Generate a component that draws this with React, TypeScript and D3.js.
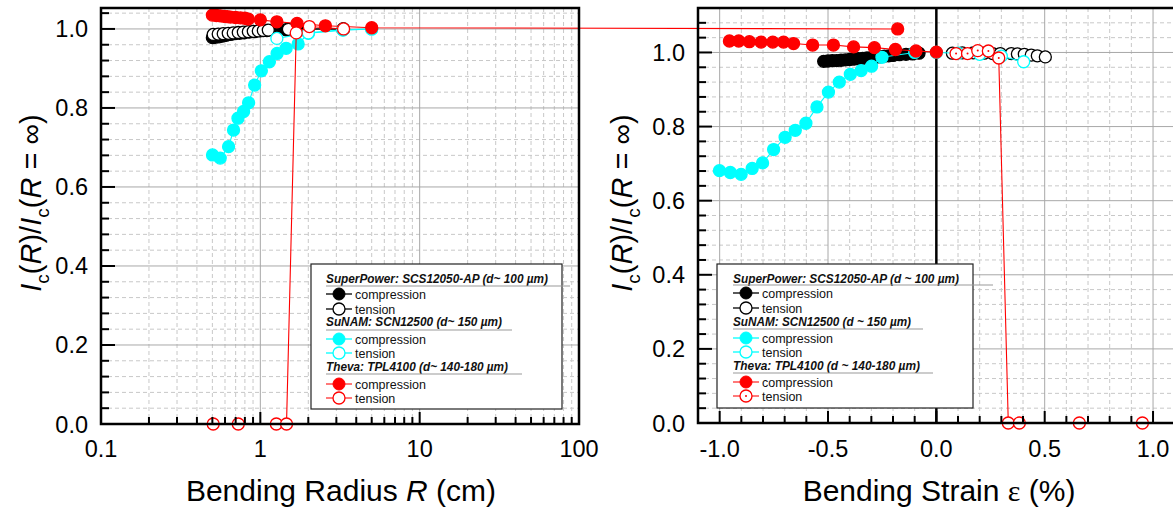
import React from "react";
import * as d3 from "d3";

// ---------- Left panel data (Bending radius R in cm) ----------
const spCompR = [0.5, 0.52, 0.55, 0.58, 0.61, 0.65, 0.69, 0.74, 0.79, 0.85, 0.92, 1.0, 1.1, 1.25, 1.45, 1.7, 2.0, 3.3];
const spCompV = [0.978, 0.979, 0.98, 0.982, 0.984, 0.986, 0.988, 0.989, 0.99, 0.992, 0.993, 0.995, 0.996, 0.997, 0.998, 0.999, 1.0, 1.0];
const spTenR = [0.506, 0.544, 0.585, 0.629, 0.676, 0.727, 0.782, 0.841, 0.903, 0.971, 1.044, 1.122, 1.5, 2.0, 3.33];
const spTenV = [0.986, 0.987, 0.988, 0.989, 0.99, 0.991, 0.992, 0.993, 0.994, 0.995, 0.996, 0.997, 0.999, 1.0, 1.0];
const snCompR = [0.501, 0.56, 0.632, 0.679, 0.724, 0.785, 0.844, 0.921, 1.015, 1.14, 1.274, 1.452, 1.727, 2.004, 3.3, 5.0];
const snCompV = [0.681, 0.673, 0.702, 0.744, 0.774, 0.791, 0.813, 0.858, 0.894, 0.917, 0.938, 0.951, 0.962, 0.989, 0.997, 1.0];
const snTenR = [1.27, 2.0, 3.3, 5.0];
const snTenV = [0.976, 0.99, 0.998, 1.0];
const thCompR = [0.5, 0.53, 0.56, 0.59, 0.62, 0.65, 0.7, 0.75, 0.8, 0.84, 1.0, 1.27, 1.7, 2.56, 5.0, 10000];
const thCompV = [1.035, 1.034, 1.033, 1.032, 1.031, 1.03, 1.029, 1.028, 1.027, 1.025, 1.023, 1.018, 1.014, 1.008, 1.003, 1.0];
const thTenR = [0.506, 0.727, 1.26, 1.46, 1.68, 2.03, 3.33];
const thTenV = [0, 0, 0, 0, 0.99, 1.006, 1.0];

// ---------- Right panel data (Bending strain in %) ----------
const spCompE = [-0.52, -0.5, -0.48, -0.46, -0.44, -0.42, -0.4, -0.38, -0.36, -0.34, -0.32, -0.3, -0.28, -0.26, -0.24, -0.22, -0.2, -0.17, -0.14, -0.11, -0.08];
const spCompEV = [0.976, 0.977, 0.978, 0.978, 0.979, 0.98, 0.981, 0.982, 0.983, 0.984, 0.985, 0.986, 0.987, 0.988, 0.99, 0.991, 0.992, 0.994, 0.995, 0.996, 0.998];
const spTenE = [0.074, 0.12, 0.17, 0.22, 0.26, 0.295, 0.346, 0.374, 0.406, 0.438, 0.466, 0.503];
const spTenEV = [0.998, 0.999, 0.999, 0.998, 0.997, 0.997, 0.997, 0.996, 0.995, 0.993, 0.991, 0.988];
const snCompE = [-1.001, -0.951, -0.901, -0.85, -0.802, -0.751, -0.698, -0.651, -0.602, -0.551, -0.498, -0.448, -0.397, -0.347, -0.299, -0.251, -0.1];
const snCompEV = [0.681, 0.676, 0.671, 0.687, 0.702, 0.738, 0.771, 0.79, 0.809, 0.853, 0.893, 0.92, 0.941, 0.951, 0.963, 0.987, 1.0];
const snTenE = [0.0, 0.1, 0.2, 0.3, 0.403];
const snTenEV = [1.0, 0.998, 0.995, 0.99, 0.975];
const thCompE = [-0.955, -0.912, -0.863, -0.809, -0.755, -0.705, -0.659, -0.571, -0.475, -0.382, -0.286, -0.189, -0.094, 0.0];
const thCompEV = [1.031, 1.031, 1.029, 1.028, 1.028, 1.028, 1.024, 1.02, 1.02, 1.015, 1.013, 1.008, 1.004, 1.001];
const thTenE = [0.091, 0.144, 0.191, 0.24, 0.288, 0.332, 0.383, 0.66, 0.951];
const thTenEV = [0.997, 0.997, 1.005, 1.004, 0.985, 0, 0, 0, 0];

// ---------- Ticks ----------
const yMajor = [0, 0.2, 0.4, 0.6, 0.8, 1.0];
const yMajorLabels = ["0.0", "0.2", "0.4", "0.6", "0.8", "1.0"];
const yMinor = [0.04, 0.08, 0.12, 0.16, 0.24, 0.28, 0.32, 0.36, 0.44, 0.48, 0.52, 0.56, 0.64, 0.68, 0.72, 0.76, 0.84, 0.88, 0.92, 0.96, 1.04, 1.08];
const rMajor = [0.1, 1, 10, 100];
const rMajorLabels = ["0.1", "1", "10", "100"];
const rMinor = [0.2, 0.3, 0.4, 0.5, 0.6, 0.7, 0.8, 0.9, 2, 3, 4, 5, 6, 7, 8, 9, 20, 30, 40, 50, 60, 70, 80, 90];
const eMajor = [-1.0, -0.5, 0.0, 0.5, 1.0];
const eMajorLabels = ["-1.0", "-0.5", "0.0", "0.5", "1.0"];
const eMinor = [-1.1, -0.9, -0.8, -0.7, -0.6, -0.4, -0.3, -0.2, -0.1, 0.1, 0.2, 0.3, 0.4, 0.6, 0.7, 0.8, 0.9];

const legendGroups = [
  { left: "SuperPower: SCS12050-AP (d~ 100 µm)", right: "SuperPower: SCS12050-AP (d ~ 100 µm)", color: "#000000" },
  { left: "SuNAM: SCN12500 (d~ 150 µm)", right: "SuNAM: SCN12500 (d ~ 150 µm)", color: "#00ffff" },
  { left: "Theva: TPL4100 (d~ 140-180 µm)", right: "Theva: TPL4100 (d ~ 140-180 µm)", color: "#ff0000" },
];

const FONT = "Liberation Sans, Arial, sans-serif";
const GRID_MAJ = "#a8a8a8";
const GRID_MIN = "#c8c8c8";

// scales
const xL = d3.scaleLog().domain([0.1, 100]).range([101, 579]);
const yL = d3.scaleLinear().domain([0, 1.053]).range([424, 8]);
const xR = d3.scaleLinear().domain([-1.1, 1.1]).range([698, 1174.7]);
const yR = d3.scaleLinear().domain([0, 1.12]).range([423, 8]);

type S = (v: number) => number;

function Series({ xs, ys, sx, sy, color, filled, dot, lineColor }: { xs: number[]; ys: number[]; sx: S; sy: S; color: string; filled: boolean; dot?: boolean; lineColor?: string }) {
  const pts = xs.map((x, i) => [sx(x), sy(ys[i])] as [number, number]);
  const line = d3.line();
  return (
    <g>
      <path d={line(pts) || ""} fill="none" stroke={lineColor || color} strokeWidth={1.1} />
      {pts.map((p, i) => (
        <g key={i}>
          <circle cx={p[0]} cy={p[1]} r={6} fill={filled ? color : "white"} stroke={color} strokeWidth={1.3} />
          {dot && <circle cx={p[0]} cy={p[1]} r={1} fill={color} />}
        </g>
      ))}
    </g>
  );
}

function YTitle({ x, y }: { x: number; y: number }) {
  return (
    <text transform={`translate(${x},${y}) rotate(-90)`} textAnchor="middle" fontSize={29} fontFamily={FONT}>
      <tspan fontStyle="italic">I</tspan>
      <tspan fontSize={19} dy={8}>c</tspan>
      <tspan dy={-8}>(</tspan>
      <tspan fontStyle="italic">R</tspan>
      <tspan>)/</tspan>
      <tspan fontStyle="italic">I</tspan>
      <tspan fontSize={19} dy={8}>c</tspan>
      <tspan dy={-8}>(</tspan>
      <tspan fontStyle="italic">R</tspan>
      <tspan> = ∞)</tspan>
    </text>
  );
}

function Legend({ box, hx, mx, rows, side, dot }: { box: [number, number, number, number]; hx: number; mx: number; rows: { hb: number; ul: number; ulEnd: number; c: number; t: number; tl: number }[]; side: "left" | "right"; dot: boolean }) {
  return (
    <g fontFamily={FONT}>
      <rect x={box[0]} y={box[1]} width={box[2] - box[0]} height={box[3] - box[1]} fill="white" stroke="#222" strokeWidth={1.2} />
      {legendGroups.map((g, i) => {
        const r = rows[i];
        const lc = g.color === "#ff0000" ? "#ff3030" : g.color === "#000000" ? "#000" : g.color;
        return (
          <g key={i}>
            <text x={hx} y={r.hb} fontSize={12} fontWeight="bold" fontStyle="italic" fill="#111" textLength={r.tl} lengthAdjust="spacingAndGlyphs">{side === "left" ? g.left : g.right}</text>
            <line x1={hx} x2={r.ulEnd} y1={r.ul} y2={r.ul} stroke="#999" strokeWidth={1} />
            <line x1={hx} x2={mx * 2 - hx} y1={r.c} y2={r.c} stroke={lc} strokeWidth={1.3} />
            <circle cx={mx} cy={r.c} r={6} fill={g.color} stroke={g.color} />
            <text x={mx * 2 - hx + 3} y={r.c + 4.5} fontSize={12.5} fill="#111">compression</text>
            <line x1={hx} x2={mx * 2 - hx} y1={r.t} y2={r.t} stroke={lc} strokeWidth={1.3} />
            <circle cx={mx} cy={r.t} r={6} fill="white" stroke={g.color} strokeWidth={1.3} />
            {dot && i === 2 && <circle cx={mx} cy={r.t} r={1} fill={g.color} />}
            <text x={mx * 2 - hx + 3} y={r.t + 4.5} fontSize={12.5} fill="#111">tension</text>
          </g>
        );
      })}
    </g>
  );
}

export default function App() {
  const L = { x0: 101, x1: 579, y0: 8, y1: 424 };
  const R = { x0: 698, x1: 1176, y0: 8, y1: 423 };
  return (
    <svg width={1173} height={514} style={{ position: "absolute", left: 0, top: 0, background: "white" }} fontFamily={FONT}>
      {/* ===== LEFT PANEL grid ===== */}
      <g>
        {yMinor.map((v) => (
          <line key={"lym" + v} x1={L.x0} x2={L.x1} y1={yL(v)} y2={yL(v)} stroke={GRID_MIN} strokeDasharray="4,3" strokeWidth={1} />
        ))}
        {rMinor.map((v) => (
          <line key={"lxm" + v} x1={xL(v)} x2={xL(v)} y1={L.y0} y2={L.y1} stroke={GRID_MIN} strokeDasharray="4,3" strokeWidth={1} />
        ))}
        {yMajor.slice(1).map((v) => (
          <line key={"lyM" + v} x1={L.x0} x2={L.x1} y1={yL(v)} y2={yL(v)} stroke={GRID_MAJ} strokeWidth={1} />
        ))}
        {rMajor.slice(1, 3).map((v) => (
          <line key={"lxM" + v} x1={xL(v)} x2={xL(v)} y1={L.y0} y2={L.y1} stroke={GRID_MAJ} strokeWidth={1} />
        ))}
      </g>

      {/* ===== RIGHT PANEL grid ===== */}
      <g>
        {yMinor.map((v) => (
          <line key={"rym" + v} x1={R.x0} x2={R.x1} y1={yR(v)} y2={yR(v)} stroke={GRID_MIN} strokeDasharray="4,3" strokeWidth={1} />
        ))}
        {eMinor.map((v) => (
          <line key={"rxm" + v} x1={xR(v)} x2={xR(v)} y1={R.y0} y2={R.y1} stroke={GRID_MIN} strokeDasharray="4,3" strokeWidth={1} />
        ))}
        {yMajor.slice(1).map((v) => (
          <line key={"ryM" + v} x1={R.x0} x2={R.x1} y1={yR(v)} y2={yR(v)} stroke={GRID_MAJ} strokeWidth={1} />
        ))}
        {eMajor.filter((v) => v !== 0).map((v) => (
          <line key={"rxM" + v} x1={xR(v)} x2={xR(v)} y1={R.y0} y2={R.y1} stroke={GRID_MAJ} strokeWidth={1} />
        ))}
        <line x1={xR(0)} x2={xR(0)} y1={R.y0} y2={R.y1} stroke="#000" strokeWidth={2.5} />
      </g>

      {/* right data */}
      <Series xs={spCompE} ys={spCompEV} sx={xR} sy={yR} color="#000000" filled />
      <Series xs={spTenE} ys={spTenEV} sx={xR} sy={yR} color="#000000" filled={false} />
      <Series xs={snCompE} ys={snCompEV} sx={xR} sy={yR} color="#00ffff" filled />
      <Series xs={snTenE} ys={snTenEV} sx={xR} sy={yR} color="#00ffff" filled={false} />
      <Series xs={thCompE} ys={thCompEV} sx={xR} sy={yR} color="#ff0000" filled />
      <Series xs={thTenE} ys={thTenEV} sx={xR} sy={yR} color="#ff0000" filled={false} dot />

      {/* left data */}
      <Series xs={spCompR} ys={spCompV} sx={xL} sy={yL} color="#000000" filled />
      <Series xs={spTenR} ys={spTenV} sx={xL} sy={yL} color="#000000" filled={false} />
      <Series xs={snCompR} ys={snCompV} sx={xL} sy={yL} color="#00ffff" filled />
      <Series xs={snTenR} ys={snTenV} sx={xL} sy={yL} color="#00ffff" filled={false} />
      <Series xs={thCompR} ys={thCompV} sx={xL} sy={yL} color="#ff0000" filled />
      <Series xs={thTenR} ys={thTenV} sx={xL} sy={yL} color="#ff0000" filled={false} />

      {/* left axes */}
      <g stroke="#000">
        {yMajor.map((v) => (
          <line key={"lyt" + v} x1={L.x0} x2={L.x0 + 14} y1={yL(v)} y2={yL(v)} strokeWidth={2} />
        ))}
        {yMinor.map((v) => (
          <line key={"lytm" + v} x1={L.x0} x2={L.x0 + 8} y1={yL(v)} y2={yL(v)} strokeWidth={2} />
        ))}
        {rMajor.map((v) => (
          <line key={"lxt" + v} x1={xL(v)} x2={xL(v)} y1={L.y1} y2={L.y1 - 12} strokeWidth={2} />
        ))}
        {rMinor.map((v) => (
          <line key={"lxtm" + v} x1={xL(v)} x2={xL(v)} y1={L.y1} y2={L.y1 - 7} strokeWidth={2} />
        ))}
        <rect x={L.x0} y={L.y0} width={L.x1 - L.x0} height={L.y1 - L.y0} fill="none" strokeWidth={2.5} />
      </g>
      {yMajor.map((v, i) => (
        <text key={"lyl" + v} x={88} y={yL(v) + 8.5} textAnchor="end" fontSize={23.5}>{yMajorLabels[i]}</text>
      ))}
      {rMajor.map((v, i) => (
        <text key={"lxl" + v} x={xL(v)} y={457} textAnchor="middle" fontSize={23.5}>{rMajorLabels[i]}</text>
      ))}
      <text x={341} y={501} textAnchor="middle" fontSize={30}>
        Bending Radius <tspan fontStyle="italic">R</tspan> (cm)
      </text>
      <YTitle x={41} y={203} />

      {/* right axes */}
      <g stroke="#000">
        {yMajor.map((v) => (
          <line key={"ryt" + v} x1={R.x0} x2={R.x0 + 14} y1={yR(v)} y2={yR(v)} strokeWidth={2} />
        ))}
        {yMinor.map((v) => (
          <line key={"rytm" + v} x1={R.x0} x2={R.x0 + 8} y1={yR(v)} y2={yR(v)} strokeWidth={2} />
        ))}
        {eMajor.map((v) => (
          <line key={"rxt" + v} x1={xR(v)} x2={xR(v)} y1={R.y1} y2={R.y1 - 12} strokeWidth={2} />
        ))}
        {eMinor.map((v) => (
          <line key={"rxtm" + v} x1={xR(v)} x2={xR(v)} y1={R.y1} y2={R.y1 - 7} strokeWidth={2} />
        ))}
        <rect x={R.x0} y={R.y0} width={R.x1 - R.x0} height={R.y1 - R.y0} fill="none" strokeWidth={2.5} />
      </g>
      {yMajor.map((v, i) => (
        <text key={"ryl" + v} x={685} y={yR(v) + 8.5} textAnchor="end" fontSize={23.5}>{yMajorLabels[i]}</text>
      ))}
      {eMajor.map((v, i) => (
        <text key={"rxl" + v} x={xR(v)} y={457} textAnchor="middle" fontSize={23.5}>{eMajorLabels[i]}</text>
      ))}
      <text x={939} y={501} textAnchor="middle" fontSize={30}>
        Bending Strain <tspan fontFamily="Liberation Serif, Times New Roman, serif">ε</tspan> (%)
      </text>
      <YTitle x={632} y={203} />

      {/* legends */}
      <Legend
        box={[311, 264, 562, 409]}
        hx={326}
        mx={339}
        side="left"
        dot={false}
        rows={[
          { hb: 283, ul: 286, ulEnd: 570, c: 294, t: 309, tl: 222 },
          { hb: 326, ul: 330, ulEnd: 512, c: 339, t: 353, tl: 176 },
          { hb: 371, ul: 374, ulEnd: 522, c: 384, t: 398, tl: 182 },
        ]}
      />
      <Legend
        box={[717, 264, 973, 408]}
        hx={733}
        mx={746}
        side="right"
        dot
        rows={[
          { hb: 283, ul: 285, ulEnd: 993, c: 293, t: 308, tl: 226 },
          { hb: 326, ul: 329, ulEnd: 923, c: 338, t: 352, tl: 178 },
          { hb: 370, ul: 373, ulEnd: 933, c: 382, t: 396, tl: 187 },
        ]}
      />
    </svg>
  );
}
